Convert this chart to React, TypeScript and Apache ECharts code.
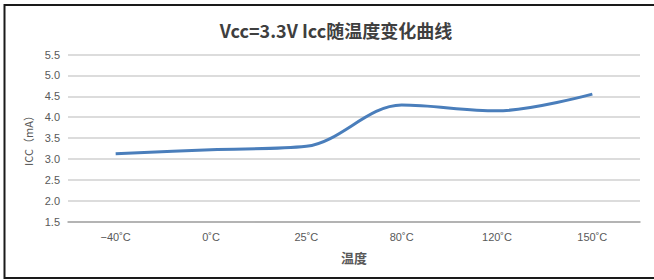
import React, { useEffect, useRef } from "react";
import * as echarts from "echarts";

const categories = ["−40˚C", "0˚C", "25˚C", "80˚C", "120˚C", "150˚C"];
const iccValues = [3.12, 3.22, 3.3, 4.29, 4.15, 4.55];
const titleText = "Vcc=3.3V Icc随温度变化曲线";
const yAxisName = "ICC（mA）";
const xAxisName = "温度";

export default function App() {
  const ref = useRef<HTMLDivElement>(null);
  useEffect(() => {
    if (!ref.current) return;
    const chart = echarts.init(ref.current, null, { renderer: "svg" });
    chart.setOption({
      animation: false,
      backgroundColor: "#ffffff",
      title: {
        text: titleText,
        left: 331,
        textAlign: "center",
        top: 16,
        textStyle: {
          fontFamily: "'Noto Sans CJK SC', sans-serif",
          fontSize: 18,
          fontWeight: "bold",
          color: "#3f3f3f",
        },
      },
      graphic: [
        {
          type: "rect",
          shape: { x: 4.5, y: 5, width: 700, height: 273 },
          style: { fill: "none", stroke: "#1a1a1a", lineWidth: 2 },
          silent: true,
        },
      ],
      grid: { left: 68, right: 14, top: 54.5, bottom: 58.5, containLabel: false },
      xAxis: {
        type: "category",
        data: categories,
        boundaryGap: true,
        name: xAxisName,
        nameLocation: "middle",
        nameGap: 29,
        nameTextStyle: {
          fontFamily: "'Noto Sans CJK SC', sans-serif",
          fontSize: 13,
          fontWeight: "bold",
          color: "#595959",
        },
        axisLine: { show: true, lineStyle: { color: "#a6a6a6", width: 1.5 } },
        axisTick: { show: false },
        axisLabel: {
          margin: 10,
          fontFamily: "'Liberation Sans Narrow', 'Liberation Sans', sans-serif",
          fontSize: 11,
          color: "#595959",
        },
        splitLine: { show: false },
      },
      yAxis: {
        type: "value",
        min: 1.5,
        max: 5.5,
        interval: 0.5,
        name: yAxisName,
        nameLocation: "middle",
        nameGap: 32,
        nameRotate: 90,
        nameTextStyle: {
          fontFamily: "'Noto Sans CJK SC', sans-serif",
          fontSize: 11,
          color: "#595959",
        },
        axisLine: { show: false },
        axisTick: { show: false },
        axisLabel: {
          margin: 8,
          fontFamily: "'Liberation Sans', sans-serif",
          fontSize: 11,
          color: "#595959",
          formatter: (v: number) => v.toFixed(1),
        },
        splitLine: { show: true, lineStyle: { color: "#d0d0d0", width: 1.5 } },
      },
      series: [
        {
          type: "line",
          data: iccValues,
          smooth: 0.34,
          symbol: "none",
          lineStyle: { color: "#4a7ebb", width: 3 },
        },
      ],
    });
    return () => chart.dispose();
  }, []);
  return (
    <div
      ref={ref}
      style={{ position: "fixed", left: 0, top: 0, width: 654, height: 280 }}
    />
  );
}
